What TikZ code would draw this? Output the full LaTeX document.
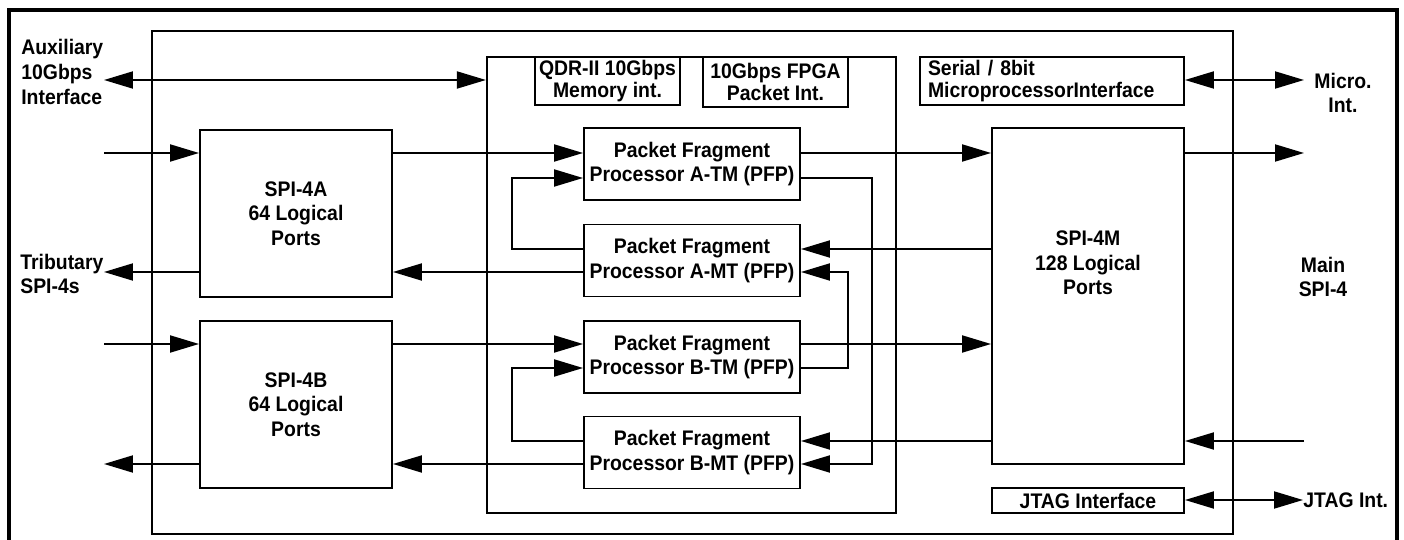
\documentclass[tikz,border=0pt]{standalone}
\usepackage{fontspec}
\setmainfont{Liberation Sans}[FakeStretch=0.92]
\usetikzlibrary{arrows.meta, calc}
\def\linew{1.1pt}
\def\pfpw{4.32cm}
\def\pfph{1.44cm}
\def\spiw{3.84cm}
\def\spih{3.34cm}
\def\textfont{\bfseries\fontsize{12}{14}\selectfont}
\tikzset{
% Blocks
block/.style={
	draw, line width=\linew, align=center, inner sep=1pt,
	font=\textfont,
},
pfp/.style={
	block, minimum width=\pfpw, minimum height=\pfph,
},
spi/.style={
	block, minimum width=\spiw, minimum height=\spih,
},
iface/.style={
	block, minimum height=0.96cm,
	font=\bfseries\fontsize{12}{12.5}\selectfont,
},
% Frames
frame/.style={
	draw, line width=1.3pt, minimum width=0, inner sep=0pt,
},
% Labels
side_label/.style={
	font=\textfont, inner sep=0pt,
},
% Connection
connection/.style={
	line width=\linew,
},
sig/.style={
	-{Triangle[length=0.58cm, width=0.34cm]},
},
bisig/.style={
	{Triangle[length=0.58cm, width=0.34cm]}-{Triangle[length=0.58cm, width=0.34cm]},
},
}

\begin{document}
\begin{tikzpicture}[x=0.02cm, y=-0.02cm]
		\useasboundingbox (0,0) rectangle (1404,540);

		% Outer frame
		\draw[line width=1.8pt] (9,540) -- (9,10) -- (1397,10) -- (1397,540);

		% Frames
		\node[frame, minimum width=21.62cm, minimum height=10.06cm]
			 (chip) at (692.5,282.5) {};
		\node[frame, minimum width=8.18cm, minimum height=9.12cm]
			 (fpga_area) at (691.5,285) {};

		% Components
		\node[spi] (spi_a) at (296,213.5) {SPI-4A\\64 Logical\\Ports};
		\node[spi] (spi_b) at (296,404.5) {SPI-4B\\64 Logical\\Ports};

		\node[pfp] (pfp_a_tm) at (692,164) {Packet Fragment\\Processor A-TM (PFP)};
		\node[pfp] (pfp_a_mt) at (692,260.5) {Packet Fragment\\Processor A-MT (PFP)};
		\node[pfp] (pfp_b_tm) at (692,357) {Packet Fragment\\Processor B-TM (PFP)};
		\node[pfp] (pfp_b_mt) at (692,452.5) {Packet Fragment\\Processor B-MT (PFP)};

		\node[block, minimum width=\spiw, minimum height=6.72cm,
			 label={[font=\textfont, align=center, yshift=0.66cm]center:SPI-4M\\128 Logical\\Ports}]
			 (spi_m) at (1088,296) {};

		\node[iface, minimum width=2.9cm] (qdr) at (607.5,81) {QDR-II 10Gbps\\Memory int.};
		\node[iface, minimum width=2.9cm, minimum height=1cm] (fpga_pkt) at (775.5,82) {10Gbps FPGA\\Packet Int.};
		\node[iface, text width=4.96cm, inner xsep=0.16cm, align=left] (micro_if) at (1052,81)
			 {Serial / 8bit\\MicroprocessorInterface};
		\node[block, minimum width=\spiw, minimum height=0.5cm, inner sep=0pt] (jtag_if) at (1088,500.5) {JTAG Interface};

		% Side labels
		\node[side_label, align=left, anchor=west] (aux_lbl) at (21,72) {Auxiliary\\10Gbps\\Interface};
		\node[side_label, align=left, anchor=west] (trib_lbl) at (20,274) {Tributary\\SPI-4s};
		\node[side_label, align=center] (micro_lbl) at (1343,93) {Micro.\\Int.};
		\node[side_label, align=center] (main_lbl) at (1323,277) {Main\\SPI-4};
		\node[side_label, anchor=west] (jtag_lbl) at (1303,500) {JTAG Int.};

		% Rows and turning points
		\coordinate (aux_row) at (0,80);
		\coordinate (row1) at (0,153);
		\coordinate (row2) at (0,178);
		\coordinate (row3) at (0,249);
		\coordinate (row4) at (0,272);
		\coordinate (row5) at (0,344);
		\coordinate (row6) at (0,368);
		\coordinate (row7) at (0,441);
		\coordinate (row8) at (0,464);
		\coordinate (loop_x) at (512,0);
		\coordinate (cross_ab) at (848,0);
		\coordinate (cross_ba) at (872,0);
		\coordinate (left_end) at (104,0);
		\coordinate (right_end) at (1304,0);

		% Connections

		% Tributary side
		\draw[connection, sig] (left_end|-row1) -- (spi_a.west|-row1);
		\draw[connection, sig] (spi_a.west|-row4) -- (left_end|-row4);
		\draw[connection, sig] (left_end|-row5) -- (spi_b.west|-row5);
		\draw[connection, sig] (spi_b.west|-row8) -- (left_end|-row8);

		% SPI-4A/B to PFP
		\draw[connection, sig] (spi_a.east|-row1) -- (pfp_a_tm.west|-row1);
		\draw[connection, sig] (pfp_a_mt.west|-row4) -- (spi_a.east|-row4);
		\draw[connection, sig] (spi_b.east|-row5) -- (pfp_b_tm.west|-row5);
		\draw[connection, sig] (pfp_b_mt.west|-row8) -- (spi_b.east|-row8);

		% Loop back
		\draw[connection, sig] (pfp_a_mt.west|-row3) -- (loop_x|-row3) -- (loop_x|-row2) -- (pfp_a_tm.west|-row2);
		\draw[connection, sig] (pfp_b_mt.west|-row7) -- (loop_x|-row7) -- (loop_x|-row6) -- (pfp_b_tm.west|-row6);

		% Cross over
		\draw[connection, sig] (pfp_a_tm.east|-row2) -- (cross_ba|-row2) -- (cross_ba|-row8) -- (pfp_b_mt.east|-row8);
		\draw[connection, sig] (pfp_b_tm.east|-row6) -- (cross_ab|-row6) -- (cross_ab|-row4) -- (pfp_a_mt.east|-row4);

		% PFP to SPI-4M
		\draw[connection, sig] (pfp_a_tm.east|-row1) -- (spi_m.west|-row1);
		\draw[connection, sig] (spi_m.west|-row3) -- (pfp_a_mt.east|-row3);
		\draw[connection, sig] (pfp_b_tm.east|-row5) -- (spi_m.west|-row5);
		\draw[connection, sig] (spi_m.west|-row7) -- (pfp_b_mt.east|-row7);

		% Main side
		\draw[connection, sig] (spi_m.east|-row1) -- (right_end|-row1);
		\draw[connection, sig] (right_end|-row7) -- (spi_m.east|-row7);

		% Interfaces
		\draw[connection, bisig] (left_end|-aux_row) -- (fpga_area.west|-aux_row);
		\draw[connection, bisig] (micro_if.east|-aux_row) -- (right_end|-aux_row);
		\draw[connection, bisig] (jtag_if.east|-jtag_lbl) -- (jtag_lbl.west);
	\end{tikzpicture}
\end{document}
